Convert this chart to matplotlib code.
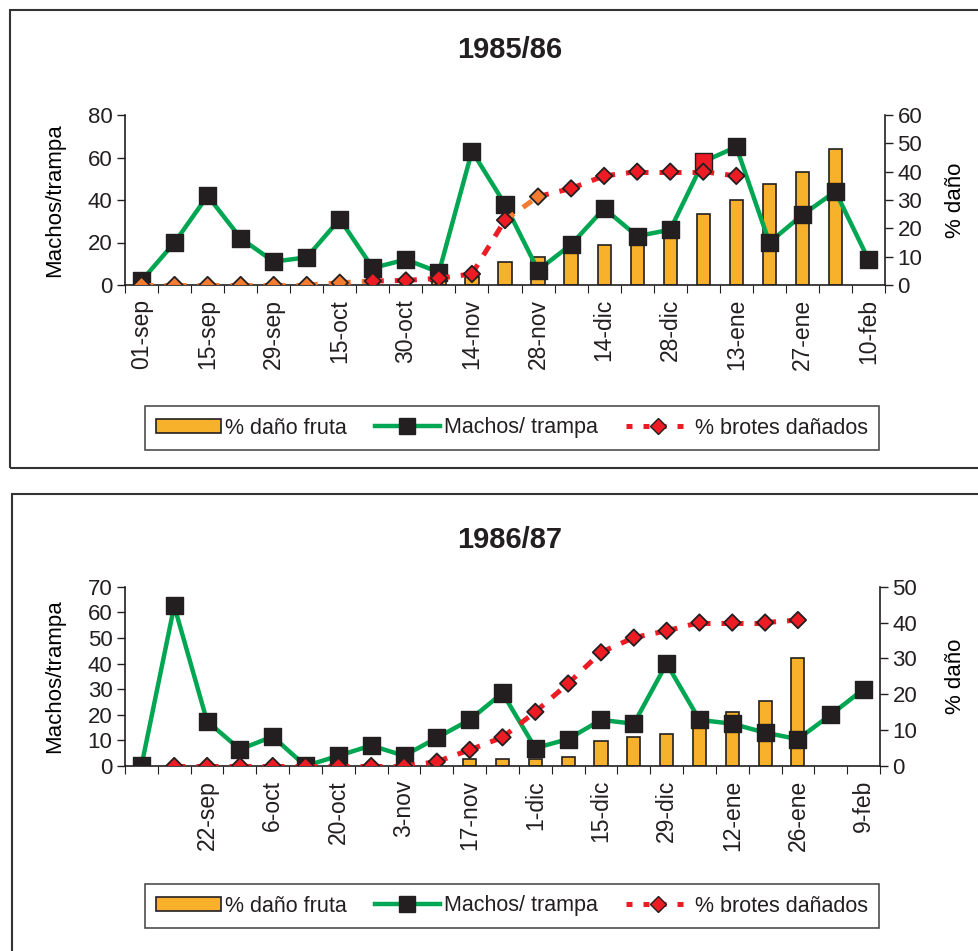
import numpy as np
import matplotlib
matplotlib.use("Agg")
import matplotlib.pyplot as plt
from matplotlib.lines import Line2D
from matplotlib.patches import Patch, Rectangle

plt.rcParams["font.family"] = ["Liberation Sans", "DejaVu Sans"]

nan = np.nan

# 1985/86
labels_8586 = ["01-sep", "15-sep", "29-sep", "15-oct", "30-oct", "14-nov",
               "28-nov", "14-dic", "28-dic", "13-ene", "27-ene", "10-feb"]
machos_8586 = [2, 20, 42, 22, 11, 13, 31, 8, 12, 6, 63, 38, 7, 19, 36, 23,
               26, 58, 65, 20, 33, 44, 12]
fruta_8586 = [nan, nan, nan, nan, nan, nan, nan, nan, nan, 7, 3, 8, 10, 13,
              14, 15, 18, 25, 30, 35.5, 40, 48, nan]
brotes_8586 = [0, 0, 0, 0, 0, 0, 0.8, 1.4, 1.6, 2.4, 3.9, 22.9, 31.2, 34.1,
               38.5, 40, 40, 40, 38.5, nan, nan, nan, nan]

# 1986/87
labels_8687 = ["", "22-sep", "6-oct", "20-oct", "3-nov", "17-nov", "1-dic",
               "15-dic", "29-dic", "12-ene", "26-ene", "9-feb"]
machos_8687 = [0, 62.5, 17.5, 6.5, 11.5, 0, 4, 8, 4, 11, 18, 28.5, 7, 10.5,
               18, 16.5, 40, 18, 16.5, 13, 10.5, 20, 30]
fruta_8687 = [nan, nan, nan, nan, nan, nan, nan, nan, nan, nan, 2, 2, 2, 2.5,
              7, 8, 9, 12, 15, 18, 30, nan, nan]
brotes_8687 = [nan, 0, 0, 0, 0, 0, 0, 0, 0, 1.2, 4.5, 8, 15.1, 23, 31.7, 35.8,
               37.7, 40, 40, 40, 40.7, nan, nan]

ORANGE = "#F7B12A"
GREEN = "#00A651"
RED = "#ED1C24"
LIGHT_ORANGE = "#F47B30"
DARK = "#231F20"

W, H = 979, 951


def fx(px):
    return px / W


def fy(py):
    return 1 - py / H


def draw_panel(fig, box, title, title_y, tick_labels, machos, fruta, brotes,
               m_max, m_step, d_max, orange_pts=(), orange_segs=(), red_sq=()):
    left, top, right, bottom = box
    rect = [fx(left), fy(bottom), fx(right) - fx(left), fy(top) - fy(bottom)]
    n = len(machos)
    x = np.arange(n)

    ax_bar = fig.add_axes(rect)
    ax_m = fig.add_axes(rect, sharex=ax_bar)
    ax_b = fig.add_axes(rect, sharex=ax_bar)
    for a in (ax_m, ax_b):
        a.patch.set_visible(False)

    # bars (% dano fruta) on the right scale
    ax_bar.bar(x, fruta, width=0.4, color=ORANGE, edgecolor=DARK, linewidth=1.2)
    ax_bar.set_ylim(0, d_max)
    ax_bar.set_axis_off()

    # machos / trampa on the left scale
    face = [RED if i in red_sq else DARK for i in range(n)]
    ax_m.plot(x, machos, color=GREEN, lw=3.2, zorder=2)
    ax_m.scatter(x, machos, marker="s", s=150, c=face, edgecolors=DARK,
                 linewidths=1, zorder=3)
    ax_m.set_ylim(0, m_max)
    ax_m.set_yticks(np.arange(0, m_max + 1, m_step))
    ax_m.set_ylabel("Machos/trampa", fontsize=16)
    ax_m.yaxis.set_label_coords((65 - left) / (right - left), 0.5)

    # % brotes danados on the right scale
    b = np.array(brotes, dtype=float)
    for i in range(n - 1):
        if np.isnan(b[i]) or np.isnan(b[i + 1]):
            continue
        col = LIGHT_ORANGE if i in orange_segs else RED
        ax_b.plot([x[i], x[i + 1]], [b[i], b[i + 1]], color=col, lw=3.6,
                  linestyle=(0, (2.2, 2.2)), solid_capstyle="butt", zorder=2)
    dface = [LIGHT_ORANGE if i in orange_pts else RED for i in range(n)]
    ax_b.scatter(x, b, marker="D", s=70, c=dface, edgecolors=DARK,
                 linewidths=1.3, zorder=3)
    ax_b.set_ylim(0, d_max)
    ax_b.yaxis.tick_right()
    ax_b.yaxis.set_label_position("right")
    ax_b.set_yticks(np.arange(0, d_max + 1, 10))
    ax_b.set_ylabel("% daño", fontsize=16)
    ax_b.yaxis.set_label_coords((945 - left) / (right - left), 0.5)

    for a in (ax_m, ax_b):
        for s in a.spines.values():
            s.set_visible(False)
        a.tick_params(axis="y", direction="out", length=6, width=1,
                      color=DARK, labelsize=16, labelcolor=DARK, pad=3)
    ax_m.spines["left"].set_visible(True)
    ax_m.spines["bottom"].set_visible(True)
    ax_b.spines["right"].set_visible(True)
    for s in (ax_m.spines["left"], ax_m.spines["bottom"], ax_b.spines["right"]):
        s.set_color(DARK)
        s.set_linewidth(1.2)

    ax_m.set_xlim(-0.5, n - 0.5)
    ax_m.set_xticks(np.arange(n + 1) - 0.5)
    ax_m.set_xticklabels([])
    ax_m.tick_params(axis="x", which="major", direction="out", length=6,
                     color=DARK)
    ax_m.set_xticks(np.arange(0, n, 2), minor=True)
    ax_m.set_xticklabels(tick_labels, minor=True, rotation=90, fontsize=16.5,
                         color=DARK)
    ax_m.tick_params(axis="x", which="minor", length=0, pad=10)
    ax_b.tick_params(axis="x", which="both", bottom=False, labelbottom=False)

    fig.text(fx(510), fy(title_y), title, ha="center",
             va="center", fontsize=21, fontweight="bold", color=DARK)


def add_legend(fig, cx, cy):
    handles = [
        Patch(facecolor=ORANGE, edgecolor=DARK, linewidth=1.2),
        Line2D([], [], color=GREEN, lw=3.2, marker="s", markersize=11,
               markerfacecolor=DARK, markeredgecolor=DARK),
        Line2D([], [], color=RED, lw=3.6, linestyle=(0, (1.2, 2.2)),
               marker="D", markersize=8, markerfacecolor=RED,
               markeredgecolor=DARK),
    ]
    names = ["% daño fruta", "Machos/ trampa", "% brotes dañados"]
    leg = fig.legend(handles, names, loc="center",
                     bbox_to_anchor=(fx(cx), fy(cy)), ncol=3, fontsize=15.5,
                     frameon=True, fancybox=False, edgecolor=DARK,
                     handlelength=3.0, handleheight=0.6, handletextpad=0.2,
                     columnspacing=1.3, borderpad=0.55, borderaxespad=0)
    leg.get_frame().set_linewidth(1.2)
    for t in leg.get_texts():
        t.set_color(DARK)


fig = plt.figure(figsize=(W / 100, H / 100), dpi=100)

# outer frames
fig.patches.append(Rectangle((fx(10), fy(467.5)), 1.2, fy(10) - fy(467.5),
                             transform=fig.transFigure, fill=False,
                             edgecolor="#333333", linewidth=1.5))
fig.patches.append(Rectangle((fx(11.5), fy(1000)), 1.2, fy(493.5) - fy(1000),
                             transform=fig.transFigure, fill=False,
                             edgecolor="#333333", linewidth=1.5))

draw_panel(fig, (125, 115, 885, 285), "1985/86", 50, labels_8586,
           machos_8586, fruta_8586, brotes_8586, 80, 20, 60,
           orange_pts=[0, 1, 2, 3, 4, 5, 6, 12],
           orange_segs=[0, 1, 2, 3, 4, 5, 6, 11], red_sq=[17])
add_legend(fig, 512, 428)

draw_panel(fig, (125, 586.7, 880, 766), "1986/87", 540, labels_8687,
           machos_8687, fruta_8687, brotes_8687, 70, 10, 50)
add_legend(fig, 512, 906)

fig.savefig("out.png", dpi=100)
